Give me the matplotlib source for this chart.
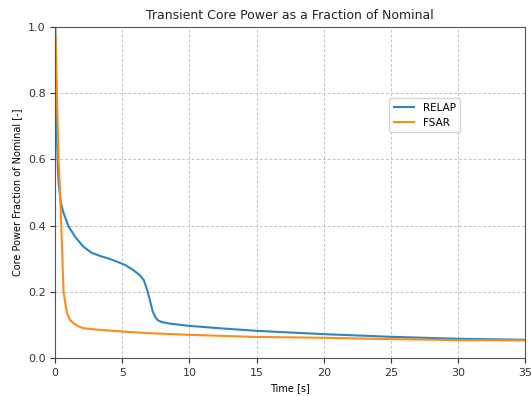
import matplotlib
matplotlib.use('Agg')
import matplotlib.pyplot as plt

# RELAP core power
relap_t = [0, 0.05, 0.1, 0.15, 0.2, 0.25, 0.42, 0.6, 1.0, 1.5, 2.1, 2.7, 3.35, 4.0,
           4.6, 5.2, 5.8, 6.3, 6.6, 6.85, 7.05, 7.25, 7.45, 7.65, 7.9, 8.5, 10, 12.5,
           15, 20, 25, 30, 35]
relap_p = [1.0, 0.88, 0.76, 0.64, 0.57, 0.53, 0.468, 0.44, 0.397, 0.365, 0.336, 0.318,
           0.308, 0.30, 0.291, 0.281, 0.266, 0.25, 0.235, 0.205, 0.175, 0.142, 0.123,
           0.114, 0.109, 0.104, 0.097, 0.089, 0.082, 0.072, 0.064, 0.058, 0.055]

# FSAR core power
fsar_t = [0, 0.05, 0.12, 0.2, 0.25, 0.32, 0.45, 0.62, 0.87, 1.1, 1.37, 1.7, 2.1,
          3.0, 5.0, 7.0, 10, 14.5, 20, 25, 30, 35]
fsar_p = [1.0, 0.93, 0.8, 0.68, 0.6, 0.54, 0.4, 0.2, 0.135, 0.115, 0.105, 0.096,
          0.09, 0.086, 0.08, 0.075, 0.07, 0.064, 0.061, 0.057, 0.054, 0.053]

fig = plt.figure(figsize=(5.31, 3.96), dpi=100)
ax = fig.add_axes([0.104, 0.096, 0.885, 0.836])

ax.plot(relap_t, relap_p, color='#2e86c1', lw=1.5, label='RELAP')
ax.plot(fsar_t, fsar_p, color='#ff8c1a', lw=1.5, label='FSAR')

ax.set_xlim(0, 35)
ax.set_ylim(0, 1.0)
ax.set_xticks([0, 5, 10, 15, 20, 25, 30, 35])
ax.set_yticks([0.0, 0.2, 0.4, 0.6, 0.8, 1.0])
ax.tick_params(labelsize=8, colors='#333333')
for s in ax.spines.values():
    s.set_color('#555555')
ax.grid(True, linestyle=(0, (3, 2)), color='#c4c4c4', lw=0.7)

ax.set_title('Transient Core Power as a Fraction of Nominal', fontsize=9, color='#222222')
ax.set_xlabel('Time [s]', fontsize=7)
ax.set_ylabel('Core Power Fraction of Nominal [-]', fontsize=7)

ax.legend(loc='upper left', bbox_to_anchor=(0.70, 0.80), fontsize=7.5)

fig.savefig('out.png', dpi=100)
